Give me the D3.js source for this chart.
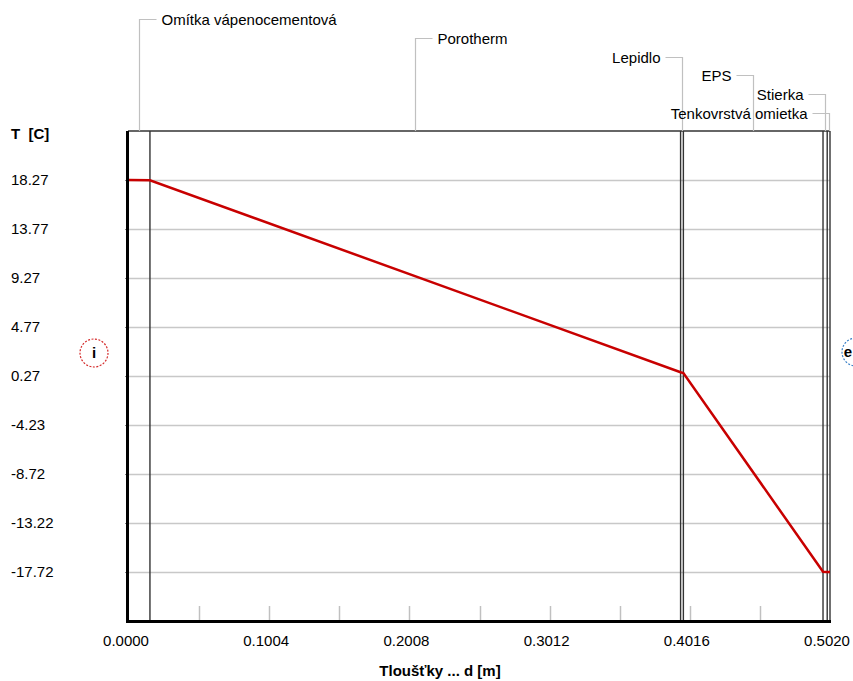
<html>
<head>
<meta charset="utf-8">
<script src="https://d3js.org/d3.v7.min.js"></script>
<style>
  body { margin:0; background:#fff; }
  text { font-family: "Liberation Sans", Arial, sans-serif; font-size:15px; fill:#000; white-space: pre; }
</style>
</head>
<body>
<svg id="chart" width="853" height="681"></svg>
<script>
// layers of the wall (from inside to outside)
const layerNames = ["Omítka vápenocementová", "Porotherm", "Lepidlo", "EPS", "Stierka", "Tenkovrstvá omietka"];
const layerThickness = [0.015, 0.38, 0.002, 0.1, 0.003, 0.002];

// temperature profile through the wall
const profileDepth = [0, 0.015, 0.395, 0.397, 0.497, 0.5, 0.502];
const profileTemp = [18.27, 18.25, 0.62, 0.55, -17.70, -17.72, -17.72];

// axis ticks
const yTickValues = [18.27, 13.77, 9.27, 4.77, 0.27, -4.23, -8.72, -13.22, -17.72];
const xTickLabels = ["0.0000", "0.1004", "0.2008", "0.3012", "0.4016", "0.5020"];
const xMinorStep = 0.0502;

const svg = d3.select("#chart");
const pLeft = 129, pRight = 830, pTop = 131, pBottom = 621;

const x = d3.scaleLinear().domain([0, 0.502]).range([pLeft, pRight]);
const y = d3.scaleLinear().domain([-22.22, 22.77]).range([pBottom, pTop]);

// boundaries between layers
let acc = 0;
const bounds = layerThickness.map(t => { const s = acc; acc += t; return [s, acc]; });

// horizontal grid
svg.append("g").selectAll("line").data(yTickValues).join("line")
  .attr("x1", pLeft).attr("x2", pRight)
  .attr("y1", d => Math.round(y(d)) + 0.5).attr("y2", d => Math.round(y(d)) + 0.5)
  .attr("stroke", "#c8c8c8").attr("stroke-width", 1.5);

// small ticks on the left border
svg.append("g").selectAll("line").data(yTickValues).join("line")
  .attr("x1", pLeft - 4).attr("x2", pLeft)
  .attr("y1", d => Math.round(y(d)) + 0.5).attr("y2", d => Math.round(y(d)) + 0.5)
  .attr("stroke", "#888");

// minor x ticks
const minor = d3.range(1, 10).map(i => i * xMinorStep);
svg.append("g").selectAll("line").data(minor).join("line")
  .attr("x1", d => Math.round(x(d)) + 0.5).attr("x2", d => Math.round(x(d)) + 0.5)
  .attr("y1", pBottom - 15).attr("y2", pBottom)
  .attr("stroke", "#c0c0c0").attr("stroke-width", 1.5);

// layer boundary lines
svg.append("g").selectAll("line").data(bounds.map(b => b[1]).slice(0, -1)).join("line")
  .attr("x1", d => x(d)).attr("x2", d => x(d))
  .attr("y1", pTop).attr("y2", pBottom)
  .attr("stroke", "#333").attr("stroke-width", 1.4);

// frame
svg.append("line").attr("x1", pLeft - 1).attr("x2", pRight).attr("y1", pTop).attr("y2", pTop)
  .attr("stroke", "#333").attr("stroke-width", 1.5);
svg.append("line").attr("x1", pRight).attr("x2", pRight).attr("y1", pTop).attr("y2", pBottom)
  .attr("stroke", "#333").attr("stroke-width", 1.4);
svg.append("line").attr("x1", pLeft - 1.5).attr("x2", pLeft - 1.5).attr("y1", pTop).attr("y2", pBottom + 2)
  .attr("stroke", "#000").attr("stroke-width", 3);
svg.append("line").attr("x1", pLeft - 3).attr("x2", pRight + 1).attr("y1", pBottom + 0.5).attr("y2", pBottom + 0.5)
  .attr("stroke", "#000").attr("stroke-width", 3);

// temperature line
const line = d3.line().x(d => x(d[0])).y(d => y(d[1]));
svg.append("path")
  .datum(profileDepth.map((d, i) => [d, profileTemp[i]]))
  .attr("d", line)
  .attr("fill", "none").attr("stroke", "#c80000").attr("stroke-width", 2.5);

// callouts
const calloutY = [19, 38, 57, 75, 94, 113];
const calloutSide = [1, 1, -1, -1, -1, -1];
const callouts = svg.append("g");
layerNames.forEach((name, i) => {
  const cx = Math.round(x((bounds[i][0] + bounds[i][1]) / 2)) + 0.5;
  const ly = calloutY[i] + 0.5, s = calloutSide[i];
  callouts.append("polyline")
    .attr("points", `${cx},${pTop} ${cx},${ly} ${cx + s * 17},${ly}`)
    .attr("fill", "none").attr("stroke", "#c0c0c0").attr("stroke-width", 1.2);
  callouts.append("text")
    .attr("x", cx + s * 22).attr("y", ly + 5)
    .attr("text-anchor", s > 0 ? "start" : "end")
    .text(name);
});

// y tick labels
svg.append("g").selectAll("text").data(yTickValues).join("text")
  .attr("x", 11).attr("y", d => y(d) + 5)
  .text(d => d.toFixed(2));

// x tick labels
svg.append("g").selectAll("text").data(xTickLabels).join("text")
  .attr("x", d => x(+d) - 3).attr("y", 646)
  .attr("text-anchor", "middle")
  .text(d => d);

// axis titles
svg.append("text").attr("x", 11).attr("y", 139)
  .style("font-weight", "bold").text("T  [C]");
svg.append("text").attr("x", 440).attr("y", 676)
  .attr("text-anchor", "middle").style("font-weight", "bold")
  .text("Tloušťky ... d [m]");

// interior / exterior markers
const markers = [
  {cx: 94, cy: 353, color: "#d42a2a", label: "i", tx: 94, anchor: "middle"},
  {cx: 856, cy: 352, color: "#3a80c8", label: "e", tx: 852, anchor: "end"}
];
markers.forEach(m => {
  svg.append("circle").attr("cx", m.cx).attr("cy", m.cy).attr("r", 14)
    .attr("fill", "none").attr("stroke", m.color).attr("stroke-width", 1.2)
    .attr("stroke-dasharray", "2,1.5");
  svg.append("text").attr("x", m.tx).attr("y", m.cy + 5)
    .attr("text-anchor", m.anchor).style("font-weight", "bold").text(m.label);
});
</script>
</body>
</html>
